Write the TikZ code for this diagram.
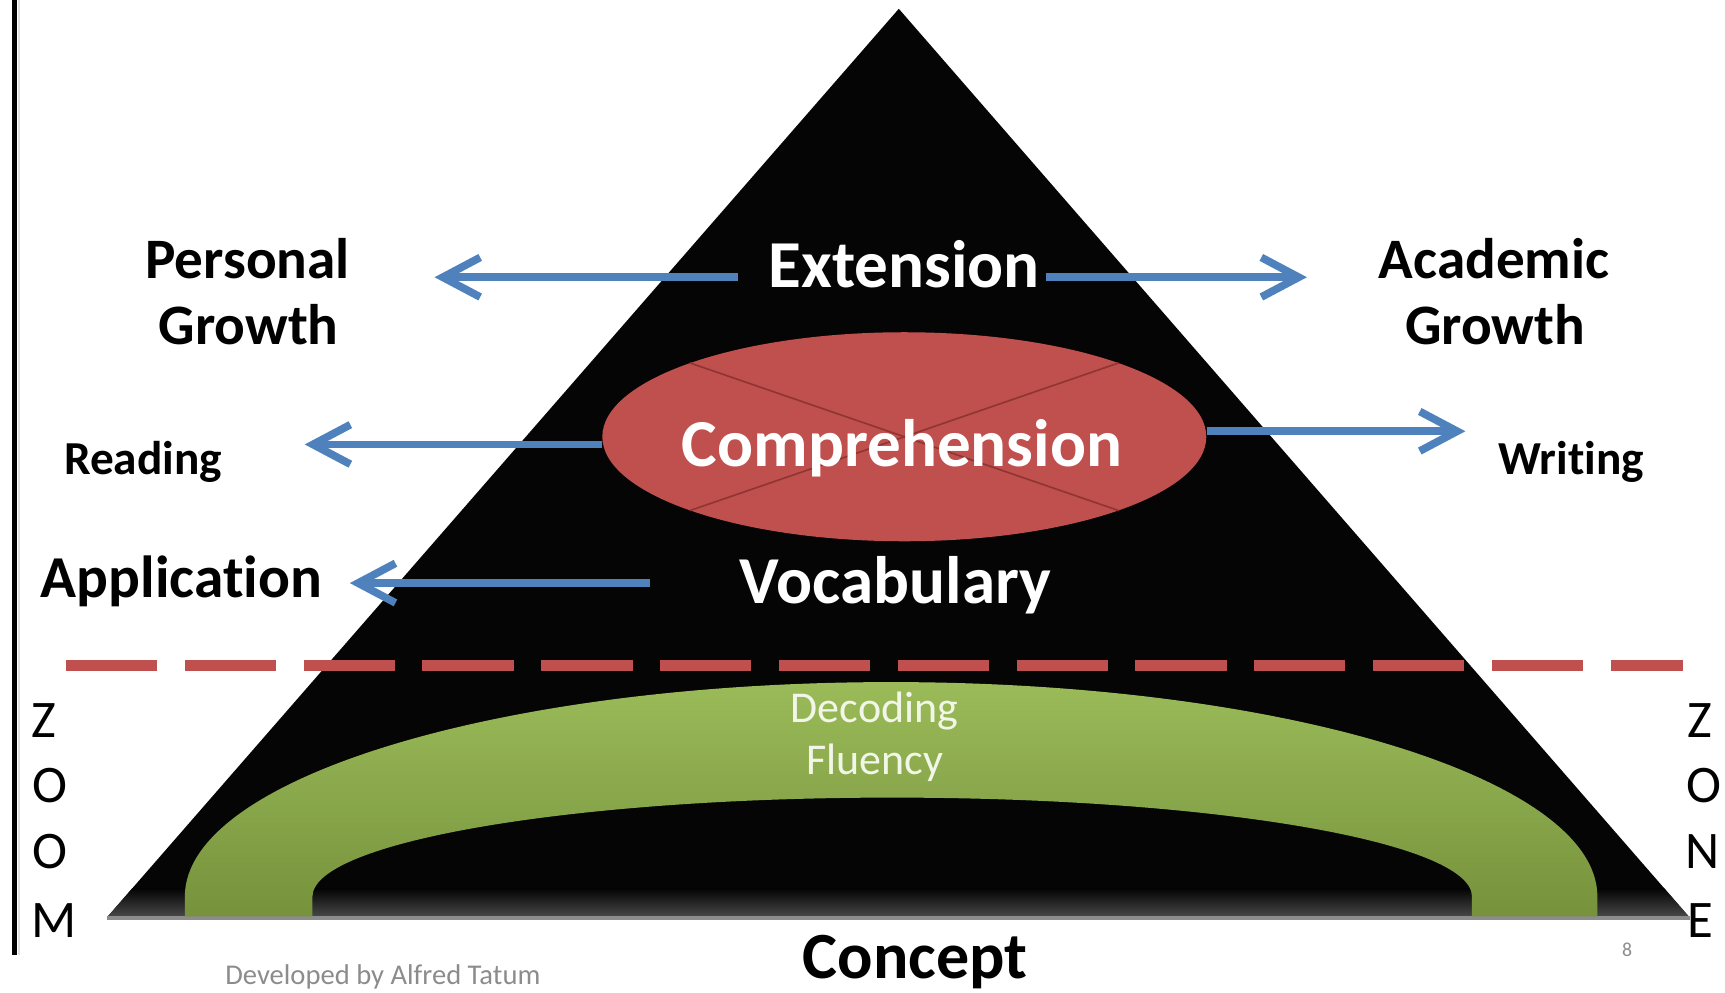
\documentclass[tikz,border=0pt]{standalone}
\usepackage{fontspec}
\setmainfont{Carlito}[Ligatures=NoCommon]
\usetikzlibrary{arrows.meta,shapes.geometric}
\definecolor{arrowblue}{HTML}{4F81BD}
\definecolor{compred}{HTML}{C0504D}
\definecolor{crossred}{HTML}{8F3532}
\definecolor{greentop}{HTML}{9BBB59}
\definecolor{greenbot}{HTML}{76923C}
\definecolor{fadegray}{HTML}{8C8C8C}
\definecolor{decwhite}{HTML}{F2F6E8}
\newcommand\fsz[1]{\fontsize{#1}{#1}\selectfont}
\begin{document}
\begin{tikzpicture}[x=1pt,y=-1pt,
  txt/.style={anchor=base,inner sep=0pt},
  blklbl/.style={txt,text=black,font=\bfseries\fsz{52}},
  sidelbl/.style={txt,text=black,font=\bfseries\fsz{43}},
  whtlbl/.style={txt,text=white,font=\bfseries\fsz{61}},
  declbl/.style={txt,text=decwhite,font=\fsz{40}},
  zoomlbl/.style={txt,text=black,font=\fsz{48}},
  arr/.style={draw=arrowblue,line width=7pt,-{Straight Barb[length=34pt,width=36pt]}},
  dashline/.style={draw=compred,line width=10pt,dash pattern=on 83pt off 25pt}]
\useasboundingbox (0,0) rectangle (1568,902);
% left rule
\draw[line width=4.5pt] (13,0) -- (13,868);
\draw[black!12,line width=1.5pt] (17.5,0) -- (17.5,868);
% triangle
\coordinate (apex) at (817,8);
\coordinate (bl) at (98,833);
\coordinate (br) at (1535,833);
\fill[black!98] (apex) -- (br) -- (bl) -- cycle;
\begin{scope}
\clip (apex) -- (br) -- (bl) -- cycle;
\shade[top color=black!98,bottom color=black!72] (0,808) rectangle (1568,833);
\end{scope}
\draw[black!45,line width=3pt] (97,834.5) -- (1536,834.5);
% green arch
\shade[top color=greentop,bottom color=greenbot]
  (168,833) -- (168,815) arc[start angle=180,end angle=360,x radius=642,y radius=195]
  -- (1452,833) -- (1338,833) -- (1338,815)
  arc[start angle=0,end angle=-180,x radius=527,y radius=90] -- (284,833) -- cycle;
% comprehension ellipse
\node[ellipse,fill=compred,minimum width=549pt,minimum height=190pt,inner sep=0pt] (comp) at (822,397) {};
\draw[crossred,line width=1.5pt] (comp.161) -- (comp.-19);
\draw[crossred,line width=1.5pt] (comp.19) -- (comp.199);
% dashed line
\coordinate (dashL) at (60,605);
\coordinate (dashR) at (1530,605);
\draw[dashline] (dashL) -- (dashR);
% texts
\node[blklbl] (pers) at (225,253) {Personal};
\node[blklbl] (pgrow) at (226,313) {Growth};
\node[blklbl] (acad) at (1358,253) {Academic};
\node[blklbl] (agrow) at (1359,313) {Growth};
\node[whtlbl] (ext) at (822,261) {Extension};
\node[whtlbl] (comptext) at (820,424) {Comprehension};
\node[whtlbl] (voc) at (814,549) {Vocabulary};
\node[sidelbl] (read) at (130,431) {Reading};
\node[sidelbl] (writ) at (1428,431) {Writing};
\node[txt,text=black,font=\bfseries\fsz{54}] (appl) at (165,543) {Application};
\node[declbl] (dec) at (795,657) {Decoding};
\node[declbl] (flu) at (795,704) {Fluency};
\node[txt,text=black,font=\bfseries\fsz{60}] (conc) at (832,889) {Concept};
\node[txt,text=fadegray,font=\fsz{26}] (dev) at (348,895) {Developed by Alfred Tatum};
\node[txt,text=fadegray,font=\fsz{18}] (pgnum) at (1479,869) {8};
\node[zoomlbl] (zl1) at (40,670) {Z};
\node[zoomlbl] (zl2) at (45,729) {O};
\node[zoomlbl] (zl3) at (45,789) {O};
\node[zoomlbl] (zl4) at (49,852) {M};
\node[zoomlbl] (zr1) at (1545,670) {Z};
\node[zoomlbl] (zr2) at (1549,729) {O};
\node[zoomlbl] (zr3) at (1548,789) {N};
\node[zoomlbl] (zr4) at (1546,852) {E};
% arrows
\coordinate (extL) at (395,252);
\coordinate (extR) at (1188,252);
\coordinate (compL) at (277,404);
\coordinate (compR) at (1332,392);
\coordinate (vocL) at (318,530);
\draw[arr] ([xshift=-28pt]ext.west |- extL) -- (extL);
\draw[arr] ([xshift=5pt]ext.east |- extR) -- (extR);
\draw[arr] (comp.west |- compL) -- (compL);
\draw[arr] (comp.east |- compR) -- (compR);
\draw[arr] ([xshift=-82pt]voc.west |- vocL) -- (vocL);
\end{tikzpicture}
\end{document}
